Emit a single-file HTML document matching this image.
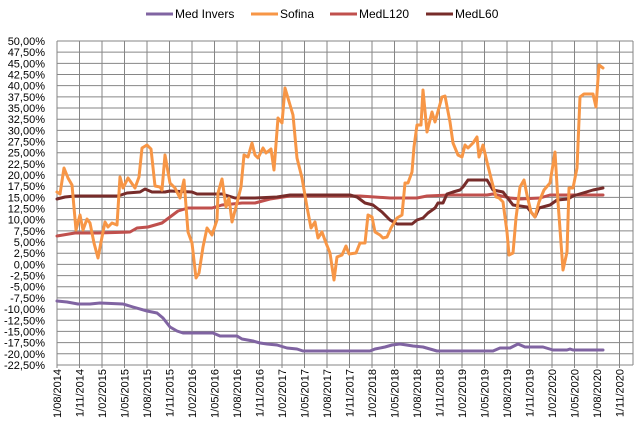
<!DOCTYPE html>
<html><head><meta charset="utf-8"><style>
html,body{margin:0;padding:0;background:#fff;}
svg{display:block;font-family:"Liberation Sans",sans-serif;}
</style></head><body>
<svg width="640" height="425" viewBox="0 0 640 425">
<rect width="640" height="425" fill="#fff"/>
<g stroke="#868686" stroke-width="1">
<line x1="57" y1="41" x2="633" y2="41"/><line x1="57" y1="52.17" x2="633" y2="52.17"/><line x1="57" y1="63.34" x2="633" y2="63.34"/><line x1="57" y1="74.51" x2="633" y2="74.51"/><line x1="57" y1="85.68" x2="633" y2="85.68"/><line x1="57" y1="96.85" x2="633" y2="96.85"/><line x1="57" y1="108.02" x2="633" y2="108.02"/><line x1="57" y1="119.19" x2="633" y2="119.19"/><line x1="57" y1="130.36" x2="633" y2="130.36"/><line x1="57" y1="141.53" x2="633" y2="141.53"/><line x1="57" y1="152.7" x2="633" y2="152.7"/><line x1="57" y1="163.87" x2="633" y2="163.87"/><line x1="57" y1="175.04" x2="633" y2="175.04"/><line x1="57" y1="186.21" x2="633" y2="186.21"/><line x1="57" y1="197.38" x2="633" y2="197.38"/><line x1="57" y1="208.55" x2="633" y2="208.55"/><line x1="57" y1="219.72" x2="633" y2="219.72"/><line x1="57" y1="230.89" x2="633" y2="230.89"/><line x1="57" y1="242.06" x2="633" y2="242.06"/><line x1="57" y1="253.23" x2="633" y2="253.23"/><line x1="57" y1="264.4" x2="633" y2="264.4"/><line x1="57" y1="275.57" x2="633" y2="275.57"/><line x1="57" y1="286.74" x2="633" y2="286.74"/><line x1="57" y1="297.91" x2="633" y2="297.91"/><line x1="57" y1="309.08" x2="633" y2="309.08"/><line x1="57" y1="320.25" x2="633" y2="320.25"/><line x1="57" y1="331.42" x2="633" y2="331.42"/><line x1="57" y1="342.59" x2="633" y2="342.59"/><line x1="57" y1="353.76" x2="633" y2="353.76"/>
<line x1="57" y1="41" x2="57" y2="368"/><line x1="79.5" y1="41" x2="79.5" y2="368"/><line x1="102" y1="41" x2="102" y2="368"/><line x1="124.5" y1="41" x2="124.5" y2="368"/><line x1="147" y1="41" x2="147" y2="368"/><line x1="169.5" y1="41" x2="169.5" y2="368"/><line x1="192" y1="41" x2="192" y2="368"/><line x1="214.5" y1="41" x2="214.5" y2="368"/><line x1="237" y1="41" x2="237" y2="368"/><line x1="259.5" y1="41" x2="259.5" y2="368"/><line x1="282" y1="41" x2="282" y2="368"/><line x1="304.5" y1="41" x2="304.5" y2="368"/><line x1="327" y1="41" x2="327" y2="368"/><line x1="349.5" y1="41" x2="349.5" y2="368"/><line x1="372" y1="41" x2="372" y2="368"/><line x1="394.5" y1="41" x2="394.5" y2="368"/><line x1="417" y1="41" x2="417" y2="368"/><line x1="439.5" y1="41" x2="439.5" y2="368"/><line x1="462" y1="41" x2="462" y2="368"/><line x1="484.5" y1="41" x2="484.5" y2="368"/><line x1="507" y1="41" x2="507" y2="368"/><line x1="529.5" y1="41" x2="529.5" y2="368"/><line x1="552" y1="41" x2="552" y2="368"/><line x1="574.5" y1="41" x2="574.5" y2="368"/><line x1="597" y1="41" x2="597" y2="368"/><line x1="619.5" y1="41" x2="619.5" y2="368"/><line x1="633" y1="41" x2="633" y2="365"/>
<line x1="57" y1="365" x2="633" y2="365"/>
</g>
<g font-size="11" fill="#000" text-anchor="end">
<text x="45" y="45">50,00%</text><text x="45" y="56.2">47,50%</text><text x="45" y="67.3">45,00%</text><text x="45" y="78.5">42,50%</text><text x="45" y="89.7">40,00%</text><text x="45" y="100.9">37,50%</text><text x="45" y="112">35,00%</text><text x="45" y="123.2">32,50%</text><text x="45" y="134.4">30,00%</text><text x="45" y="145.5">27,50%</text><text x="45" y="156.7">25,00%</text><text x="45" y="167.9">22,50%</text><text x="45" y="179">20,00%</text><text x="45" y="190.2">17,50%</text><text x="45" y="201.4">15,00%</text><text x="45" y="212.6">12,50%</text><text x="45" y="223.7">10,00%</text><text x="45" y="234.9">7,50%</text><text x="45" y="246.1">5,00%</text><text x="45" y="257.2">2,50%</text><text x="45" y="268.4">0,00%</text><text x="45" y="279.6">-2,50%</text><text x="45" y="290.7">-5,00%</text><text x="45" y="301.9">-7,50%</text><text x="45" y="313.1">-10,00%</text><text x="45" y="324.3">-12,50%</text><text x="45" y="335.4">-15,00%</text><text x="45" y="346.6">-17,50%</text><text x="45" y="357.8">-20,00%</text><text x="45" y="369">-22,50%</text>
</g>
<g font-size="11" fill="#000" text-anchor="end">
<text transform="translate(61,369) rotate(-90)">1/08/2014</text><text transform="translate(83.5,369) rotate(-90)">1/11/2014</text><text transform="translate(106,369) rotate(-90)">1/02/2015</text><text transform="translate(128.5,369) rotate(-90)">1/05/2015</text><text transform="translate(151,369) rotate(-90)">1/08/2015</text><text transform="translate(173.5,369) rotate(-90)">1/11/2015</text><text transform="translate(196,369) rotate(-90)">1/02/2016</text><text transform="translate(218.5,369) rotate(-90)">1/05/2016</text><text transform="translate(241,369) rotate(-90)">1/08/2016</text><text transform="translate(263.5,369) rotate(-90)">1/11/2016</text><text transform="translate(286,369) rotate(-90)">1/02/2017</text><text transform="translate(308.5,369) rotate(-90)">1/05/2017</text><text transform="translate(331,369) rotate(-90)">1/08/2017</text><text transform="translate(353.5,369) rotate(-90)">1/11/2017</text><text transform="translate(376,369) rotate(-90)">1/02/2018</text><text transform="translate(398.5,369) rotate(-90)">1/05/2018</text><text transform="translate(421,369) rotate(-90)">1/08/2018</text><text transform="translate(443.5,369) rotate(-90)">1/11/2018</text><text transform="translate(466,369) rotate(-90)">1/02/2019</text><text transform="translate(488.5,369) rotate(-90)">1/05/2019</text><text transform="translate(511,369) rotate(-90)">1/08/2019</text><text transform="translate(533.5,369) rotate(-90)">1/11/2019</text><text transform="translate(556,369) rotate(-90)">1/02/2020</text><text transform="translate(578.5,369) rotate(-90)">1/05/2020</text><text transform="translate(601,369) rotate(-90)">1/08/2020</text><text transform="translate(623.5,369) rotate(-90)">1/11/2020</text>
</g>
<g fill="none" stroke-width="3" stroke-linejoin="round" stroke-linecap="round">
<polyline stroke="#8064A2" points="57,301 67,302 78,304 90,304 100,303 123,304 133,307 147,311 157,313 163,318 170,327 177,331 183,333 213,333 220,336 237,336 242,339 253,341 260,343 267,344 277,345 287,348 297,349 303,351 370,351 375,349 385,347 392,345 400,344 413,346 423,347 430,349 437,351 493,351 500,348 510,348 518,344 525,347 543,347 553,350 567,350 570,349 573,350 603,350"/>
<polyline stroke="#C0504D" points="57,236 75,233 98,233 130,232 137,228 148,227 162,223 170,217 178,211 188,208 212,208 222,205 242,203 255,203 270,199 290,196 360,196 390,198 417,198 427,196 450,195 487,195 493,194 510,198 520,199 540,198 550,195 603,195"/>
<polyline stroke="#772C2A" points="57,199 65,197 75,196 118,196 127,193 140,192 145,189 152,192 165,192 170,191 192,192 197,194 222,194 235,198 255,198 277,197 290,195 350,195 357,197 365,203 373,205 382,212 390,220 397,224 412,224 417,220 423,218 428,213 435,208 438,203 443,203 447,194 453,192 460,190 463,187 468,180 487,180 493,190 503,192 513,205 527,207 535,217 539,208 550,205 557,200 568,199 573,196 583,193 593,190 603,188"/>
<polyline stroke="#F79646" points="57,192 60,194 64,168 68,178 72,185 76,230 80,215 83,230 87,219 90,223 94,243 98,258 102,237 105,222 108,227 112,223 117,225 120,177 123,188 128,178 135,188 139,177 142,148 147,145 151,149 155,186 160,187 162,190 165,155 170,183 175,188 180,198 184,180 188,232 192,243 196,278 199,273 203,247 207,228 212,235 217,220 218,193 222,179 226,207 229,198 232,222 237,203 241,187 244,155 248,157 252,143 255,155 258,158 263,148 266,153 271,149 274,170 278,118 282,123 285,88 293,115 297,158 302,178 307,207 311,228 315,222 318,238 322,232 326,243 330,253 334,280 337,257 342,255 346,246 349,254 356,253 360,243 365,243 368,215 372,217 375,232 380,235 383,238 387,237 391,228 397,218 402,215 405,183 408,183 412,172 414,147 417,125 421,125 423,90 427,132 432,112 435,122 442,97 445,96 450,122 453,143 458,155 462,157 465,145 468,148 473,143 477,137 479,157 483,145 487,162 492,182 496,197 499,198 503,202 507,232 509,255 513,253 516,218 520,187 524,180 527,195 531,212 535,217 539,202 544,190 550,183 555,152 558,202 563,270 567,252 569,188 573,188 577,168 580,97 584,94 593,94 596,107 599,65 603,68"/>
</g>
<g stroke-width="3">
<line x1="146" y1="14" x2="173" y2="14" stroke="#8064A2"/>
<line x1="251" y1="14" x2="278" y2="14" stroke="#F79646"/>
<line x1="330" y1="14" x2="357" y2="14" stroke="#C0504D"/>
<line x1="426" y1="14" x2="453" y2="14" stroke="#772C2A"/>
</g>
<g font-size="12" fill="#000">
<text x="175" y="18">Med Invers</text>
<text x="280" y="18">Sofina</text>
<text x="359" y="18">MedL120</text>
<text x="455" y="18">MedL60</text>
</g>
</svg>
</body></html>
